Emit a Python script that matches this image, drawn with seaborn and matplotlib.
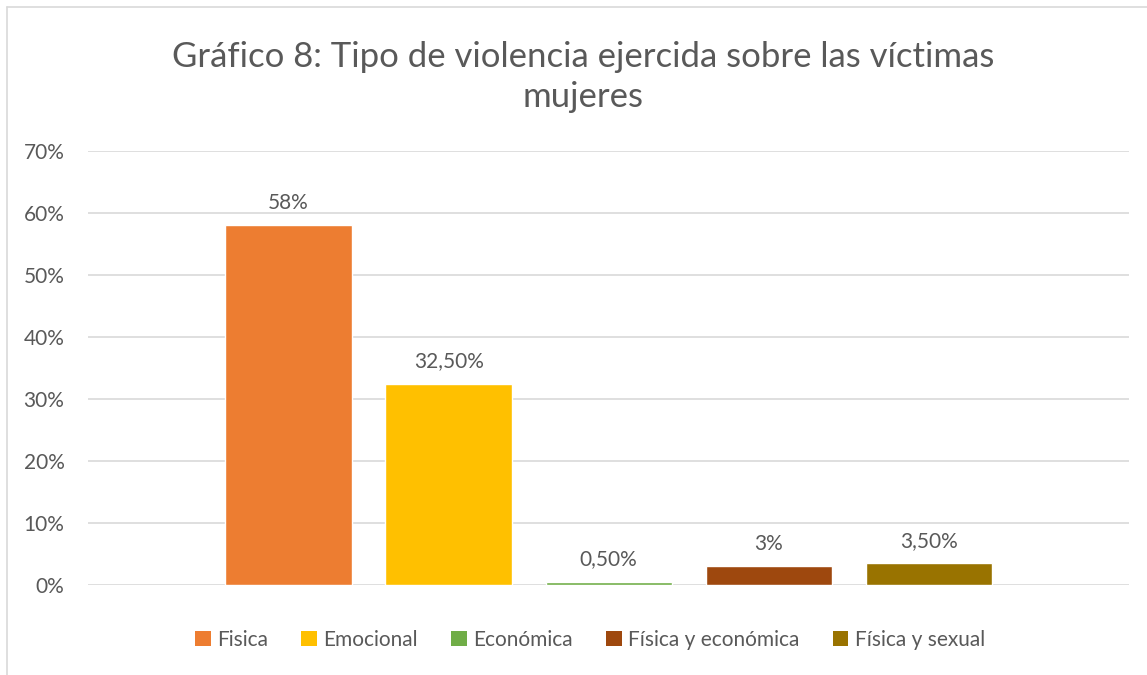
import pandas as pd
import matplotlib.pyplot as plt
import seaborn as sns
from matplotlib.patches import Patch
from matplotlib.lines import Line2D

# data
tipos = ["Fisica", "Emocional", "Económica", "Física y económica", "Física y sexual"]
porcentajes = [58, 32.5, 0.5, 3, 3.5]
etiquetas = ["58%", "32,50%", "0,50%", "3%", "3,50%"]
colores = ["#ED7D31", "#FFC000", "#70AD47", "#9E480E", "#997300"]
y_ticks = [0, 10, 20, 30, 40, 50, 60, 70]

df = pd.DataFrame({"Tipo": tipos, "Porcentaje": porcentajes})

sns.set_style("white")
plt.rcParams["font.family"] = ["Lato", "DejaVu Sans"]
texto = "#595959"

fig = plt.figure(figsize=(11.47, 6.75), dpi=100)
ax = fig.add_axes([88 / 1147, 1 - 585 / 675, (1129 - 88) / 1147, (585 - 151) / 675])

sns.barplot(data=df, x="Tipo", y="Porcentaje", hue="Tipo", order=tipos, hue_order=tipos,
            palette=colores, width=0.79, legend=False, ax=ax, saturation=1)

ax.set_xlim(-1.253, 5.25)
ax.set_ylim(0, 70)
ax.set_yticks(y_ticks)
ax.set_yticklabels([f"{t}%" for t in y_ticks], fontsize=15, color=texto)
ax.tick_params(axis="y", length=0, pad=17)
ax.set_xticks([])
ax.set_xlabel("")
ax.set_ylabel("")
ax.grid(axis="y", color="#D9D9D9", linewidth=1.2)
ax.set_axisbelow(True)
for s in ax.spines.values():
    s.set_visible(False)

for i, (v, lab) in enumerate(zip(porcentajes, etiquetas)):
    ax.annotate(lab, (i, v), xytext=(0, 9), textcoords="offset points",
                ha="center", va="bottom", fontsize=15, color=texto)

fig.text(583 / 1147, 1 - 77 / 675, "Gráfico 8: Tipo de violencia ejercida sobre las víctimas\nmujeres",
         ha="center", va="center", fontsize=25, color=texto, linespacing=1.3)

handles = [Patch(facecolor=c, edgecolor="none") for c in colores]
fig.legend(handles, tipos, loc="center", bbox_to_anchor=(590 / 1147, 1 - 640 / 675), ncol=5,
           frameon=False, fontsize=15, labelcolor=texto, handlelength=0.75, handleheight=0.75,
           handletextpad=0.3, columnspacing=1.6)

# chart frame (left and top edges visible)
fig.add_artist(Line2D([7 / 1147, 7 / 1147], [0, 1 - 7 / 675], color="#D9D9D9", linewidth=1.2))
fig.add_artist(Line2D([7 / 1147, 1], [1 - 7 / 675, 1 - 7 / 675], color="#D9D9D9", linewidth=1.2))

fig.savefig("out.png", dpi=100)
